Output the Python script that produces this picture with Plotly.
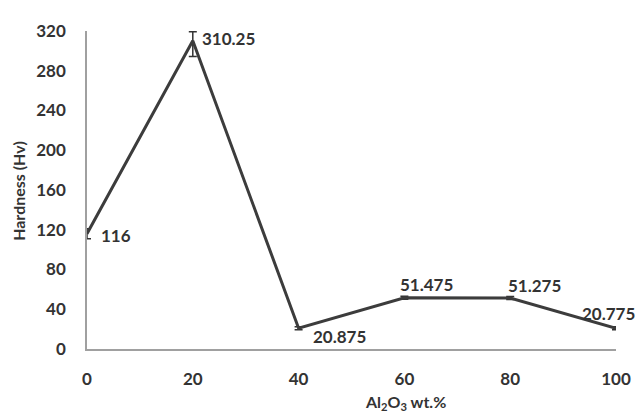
import plotly.graph_objects as go

x_vals = [0, 20, 40, 60, 80, 100]
hardness = [116, 310.25, 20.875, 51.475, 51.275, 20.775]
err_plus = [5, 9, 1.5, 1.5, 1.5, 1.5]
err_minus = [5, 16, 1.5, 1.5, 1.5, 1.5]
labels = ["116", "310.25", "20.875", "51.475", "51.275", "20.775"]
y_ticks = [0, 40, 80, 120, 160, 200, 240, 280, 320]
x_ticks = [0, 20, 40, 60, 80, 100]

# label offsets in pixels (xshift, yshift)
label_offsets = [(12, -2), (7, 2), (12, -8), (-6, 13), (-4, 13), (-36, 15)]

font_fam = "Lato"
dark = "#333333"
FS = 17

fig = go.Figure()
fig.add_trace(go.Scatter(
    x=x_vals, y=hardness, mode="lines",
    line=dict(color="#3c3c3c", width=3),
    error_y=dict(type="data", symmetric=False, array=err_plus, arrayminus=err_minus,
                 color="#333333", thickness=1.5, width=4),
    showlegend=False,
))

for xv, yv, lab, (dx, dy) in zip(x_vals, hardness, labels, label_offsets):
    fig.add_annotation(x=xv, y=yv, text=f"<b>{lab}</b>", showarrow=False,
                       xanchor="left", yanchor="middle", xshift=dx, yshift=dy,
                       font=dict(family=font_fam, size=FS, color=dark))

fig.add_annotation(xref="paper", yref="paper", x=0.603, y=-0.167,
                   text="<b>Al<sub>2</sub>O<sub>3</sub> wt.%</b>", showarrow=False,
                   xanchor="center", yanchor="middle",
                   font=dict(family=font_fam, size=16, color=dark))
fig.add_annotation(xref="paper", yref="paper", x=-0.13, y=0.498,
                   text="<b>Hardness (Hv)</b>", showarrow=False, textangle=-90,
                   xanchor="center", yanchor="middle",
                   font=dict(family=font_fam, size=16, color=dark))

# page body adds an 8px margin, so the figure is sized/offset to compensate
fig.update_layout(
    width=635, height=406,
    margin=dict(l=79, r=25, t=12, b=65),
    plot_bgcolor="white", paper_bgcolor="white",
    font=dict(family=font_fam, color=dark),
)
fig.update_xaxes(range=[0, 100], tickvals=x_ticks,
                 ticktext=[f"<b>{t}</b>" for t in x_ticks],
                 showgrid=False, zeroline=False, showline=True,
                 linecolor="#a0a0a0", linewidth=1.5, ticks="",
                 ticklabelstandoff=14, tickfont=dict(size=FS, family=font_fam, color=dark))
fig.update_yaxes(range=[0, 320], tickvals=y_ticks,
                 ticktext=[f"<b>{t}</b>" for t in y_ticks],
                 showgrid=False, zeroline=False, showline=True,
                 linecolor="#a0a0a0", linewidth=1.5, ticks="",
                 ticklabelstandoff=16, tickfont=dict(size=FS, family=font_fam, color=dark))

fig.write_html("out.html")
